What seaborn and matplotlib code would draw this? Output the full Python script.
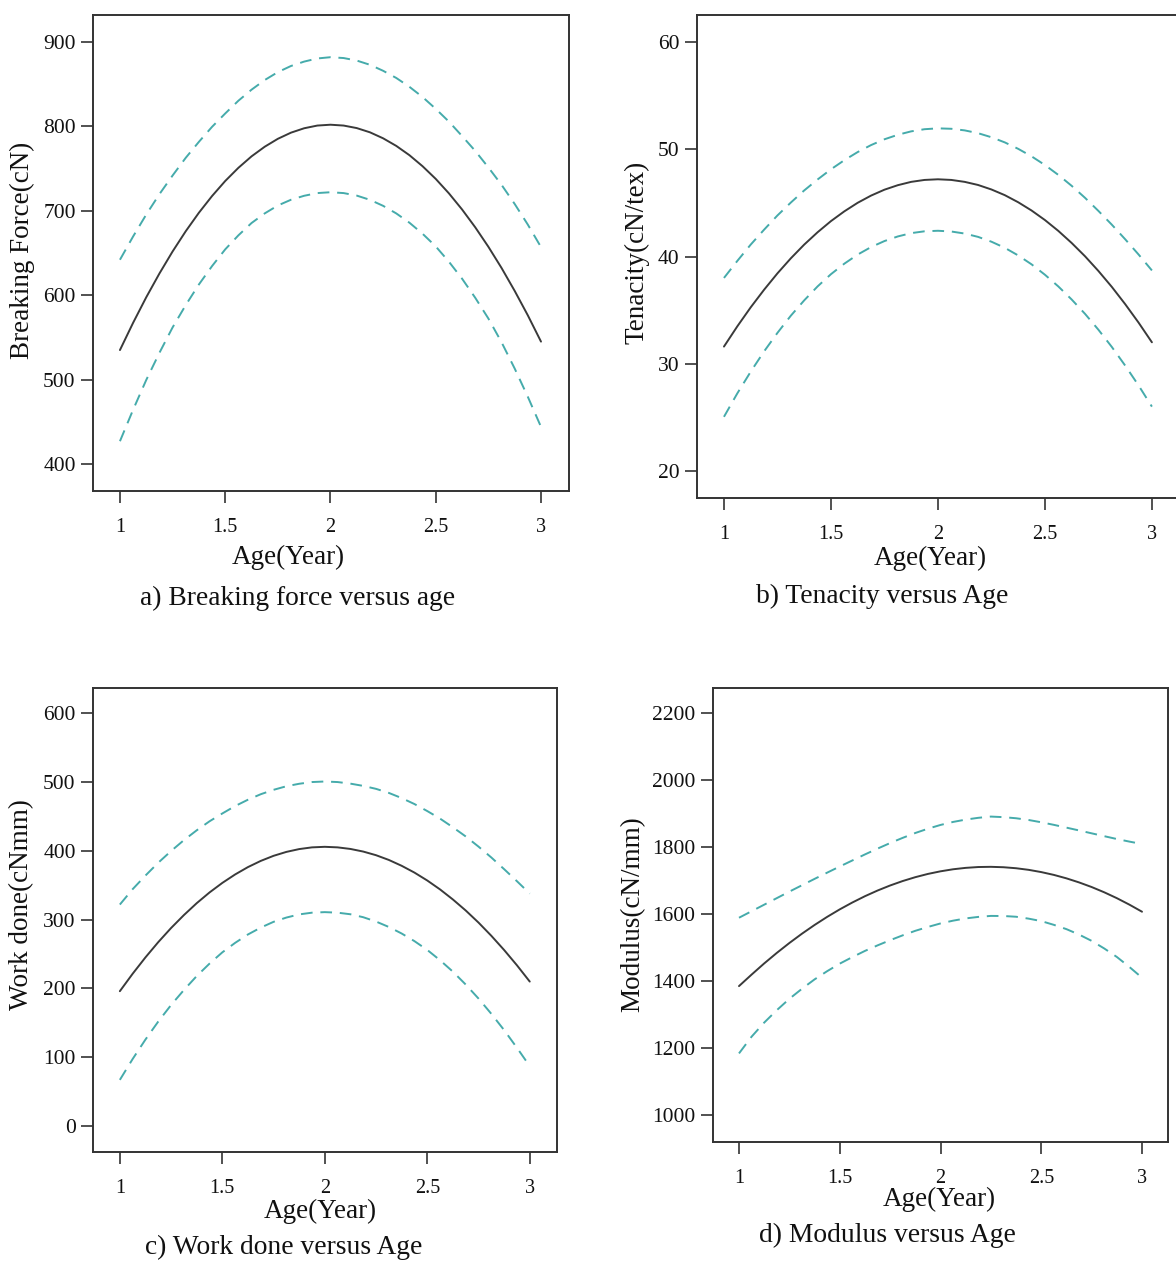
import numpy as np
import pandas as pd
import matplotlib
matplotlib.use("Agg")
import matplotlib.pyplot as plt
import seaborn as sns

# ---------------- data ----------------
age = [1.0, 1.0625, 1.125, 1.1875, 1.25, 1.3125, 1.375, 1.4375, 1.5,
       1.5625, 1.625, 1.6875, 1.75, 1.8125, 1.875, 1.9375, 2.0,
       2.0625, 2.125, 2.1875, 2.25, 2.3125, 2.375, 2.4375, 2.5,
       2.5625, 2.625, 2.6875, 2.75, 2.8125, 2.875, 2.9375, 3.0]

force_fit = [535, 567.3, 597.6, 625.7, 651.8, 675.8, 697.7, 717.5, 735.3,
             750.9, 764.5, 775.9, 785.3, 792.6, 797.8, 801.0, 802,
             801.0, 798.0, 793.0, 785.9, 776.9, 765.9, 752.8, 737.8,
             720.7, 701.6, 680.5, 657.4, 632.3, 605.1, 576.1, 545]
force_up = [642, 669.6, 695.6, 719.7, 741.8, 762.8, 781.7, 799.5, 815.3,
            830.4, 843.5, 854.9, 864.3, 871.6, 876.8, 880.5, 882,
            881.0, 878.0, 873.0, 865.9, 857.4, 846.9, 834.8, 820.8,
            805.7, 788.6, 771.0, 751.4, 730.8, 708.1, 683.6, 657]
force_lo = [427, 464.3, 499.6, 531.7, 561.8, 588.3, 612.7, 634.5, 654.3,
            670.9, 685.5, 696.9, 706.3, 713.1, 717.8, 721.0, 722,
            721.0, 718.0, 713.0, 705.9, 696.9, 685.9, 672.8, 657.8,
            639.7, 619.6, 597.0, 572.4, 544.3, 513.1, 479.6, 444]

ten_fit = [31.6, 33.49, 35.26, 36.90, 38.43, 39.83, 41.11, 42.26, 43.30,
           44.21, 45.01, 45.68, 46.23, 46.65, 46.96, 47.14, 47.2,
           47.14, 46.96, 46.67, 46.25, 45.72, 45.06, 44.29, 43.40,
           42.39, 41.26, 40.02, 38.65, 37.17, 35.56, 33.84, 32.0]
ten_up = [38.0, 39.59, 41.11, 42.50, 43.83, 45.03, 46.16, 47.18, 48.13,
          48.98, 49.74, 50.39, 50.93, 51.35, 51.67, 51.87, 51.95,
          51.91, 51.76, 51.50, 51.12, 50.64, 50.04, 49.34, 48.53,
          47.61, 46.59, 45.47, 44.25, 42.97, 41.61, 40.19, 38.7]
ten_lo = [25.05, 27.24, 29.26, 31.15, 32.88, 34.48, 35.91, 37.21, 38.35,
          39.33, 40.18, 40.88, 41.44, 41.87, 42.18, 42.35, 42.4,
          42.33, 42.14, 41.83, 41.38, 40.81, 40.10, 39.27, 38.30,
          37.21, 35.99, 34.65, 33.17, 31.57, 29.83, 27.98, 26.0]

work_fit = [196, 221.4, 245.2, 267.4, 287.9, 306.7, 324.0, 339.6, 353.5,
            365.8, 376.5, 385.5, 392.9, 398.6, 402.7, 405.2, 406,
            405.2, 402.9, 399.1, 393.8, 386.9, 378.4, 368.5, 357.0,
            344.0, 329.4, 313.4, 295.8, 276.6, 255.9, 233.7, 210]
work_up = [322, 344.4, 364.2, 382.9, 399.9, 415.7, 430.0, 443.1, 454.5,
           465.3, 474.5, 482.5, 488.9, 494.1, 497.7, 500.2, 501,
           500.2, 497.9, 494.6, 490.3, 484.4, 476.9, 468.2, 458.0,
           447.0, 434.4, 421.1, 406.3, 390.5, 373.5, 356.0, 338]
work_lo = [67, 97.4, 125.7, 151.9, 175.9, 197.7, 218.0, 236.1, 252.5,
           266.3, 278.5, 288.5, 296.9, 303.1, 307.7, 310.2, 311,
           310.2, 307.9, 303.6, 297.3, 289.4, 279.9, 268.8, 256.0,
           241.0, 224.4, 205.7, 185.3, 163.1, 139.4, 113.7, 87]

mod_fit = [1386, 1420.3, 1453.6, 1485.0, 1514.6, 1542.4, 1568.4, 1592.6, 1615.0,
           1635.5, 1654.3, 1671.2, 1686.3, 1699.6, 1711.1, 1720.8, 1728.6,
           1734.7, 1738.9, 1741.4, 1742.0, 1740.8, 1737.8, 1733.0, 1726.3,
           1717.9, 1707.6, 1695.5, 1681.7, 1666.0, 1648.5, 1629.1, 1608]
mod_up = [1590, 1609.5, 1629, 1648.5, 1668, 1687, 1706, 1724.6, 1743,
          1761, 1779, 1796.3, 1813, 1828.5, 1843, 1855.8, 1867,
          1876, 1883, 1888.3, 1892, 1890.3, 1887, 1881.8, 1875,
          1867.3, 1859, 1850.6, 1842, 1833.5, 1825, 1817.3, 1810]
mod_lo = [1185, 1235, 1277, 1314, 1348, 1378, 1406, 1430.5, 1453,
          1472.5, 1491, 1507.5, 1523, 1537.5, 1551, 1562.5, 1573,
          1581.3, 1588, 1592.5, 1595.5, 1595.2, 1593, 1587.3, 1580,
          1568.8, 1556, 1539.8, 1521, 1498.3, 1473, 1443, 1411]

x_ticks = [1, 1.5, 2, 2.5, 3]
x_ticklabels = ["1", "1.5", "2", "2.5", "3"]

y_labels = ["Breaking Force(cN)", "Tenacity(cN/tex)", "Work done(cNmm)", "Modulus(cN/mm)"]
captions = ["a) Breaking force versus age", "b) Tenacity versus Age",
            "c) Work done versus Age", "d) Modulus versus Age"]
x_label = "Age(Year)"

# ---------------- style ----------------
sns.set_style("ticks")
plt.rcParams["font.family"] = ["Liberation Serif", "DejaVu Serif"]
plt.rcParams["axes.edgecolor"] = "#333333"
plt.rcParams["xtick.color"] = "#333333"
plt.rcParams["ytick.color"] = "#333333"
plt.rcParams["xtick.labelcolor"] = "#111111"
plt.rcParams["ytick.labelcolor"] = "#111111"

W, H = 1176, 1263
fig = plt.figure(figsize=(W / 100, H / 100), dpi=100)
fig.patch.set_facecolor("white")


def px_axes(left, top, right, bottom):
    return fig.add_axes([left / W, 1 - bottom / H, (right - left) / W, (bottom - top) / H])


FIT_COLOR = "#3a3a3a"
CI_COLOR = "#45abab"

panels = [
    dict(box=(93, 15, 569, 491), xlim=(0.872, 3.133), ylim=(368, 932),
         yticks=[400, 500, 600, 700, 800, 900], fit=force_fit, up=force_up, lo=force_lo,
         ylab_x=22, ylab_y=250, xlab_x=288, xlab_y=557, cap_x=298, cap_y=598),
    dict(box=(697, 15, 1187, 498), xlim=(0.874, 3.164), ylim=(17.48, 62.52),
         yticks=[20, 30, 40, 50, 60], fit=ten_fit, up=ten_up, lo=ten_lo,
         ylab_x=637, ylab_y=252, xlab_x=930, xlab_y=558, cap_x=882, cap_y=596),
    dict(box=(93, 688, 557, 1152), xlim=(0.869, 3.133), ylim=(-37.9, 637),
         yticks=[0, 100, 200, 300, 400, 500, 600], fit=work_fit, up=work_up, lo=work_lo,
         ylab_x=22, ylab_y=905, xlab_x=320, xlab_y=1211, cap_x=284, cap_y=1247),
    dict(box=(713, 688, 1168, 1142), xlim=(0.871, 3.129), ylim=(920.6, 2275.8),
         yticks=[1000, 1200, 1400, 1600, 1800, 2000, 2200], fit=mod_fit, up=mod_up, lo=mod_lo,
         ylab_x=633, ylab_y=914, xlab_x=939, xlab_y=1199, cap_x=887, cap_y=1235),
]

for i, p in enumerate(panels):
    ax = px_axes(*p["box"])
    ax.set_facecolor("white")
    sns.lineplot(x=age, y=p["up"], ax=ax, color=CI_COLOR, linewidth=1.4,
                 linestyle=(0, (6, 4)), errorbar=None)
    sns.lineplot(x=age, y=p["lo"], ax=ax, color=CI_COLOR, linewidth=1.4,
                 linestyle=(0, (6, 4)), errorbar=None)
    sns.lineplot(x=age, y=p["fit"], ax=ax, color=FIT_COLOR, linewidth=1.4,
                 errorbar=None)
    ax.set_xlim(*p["xlim"])
    ax.set_ylim(*p["ylim"])
    ax.set_xticks(x_ticks)
    ax.set_xticklabels(x_ticklabels)
    ax.set_yticks(p["yticks"])
    ax.set_yticklabels([str(v) for v in p["yticks"]])
    ax.tick_params(axis="both", direction="out", length=8.5, width=1.2)
    ax.tick_params(axis="x", labelsize=14.5, pad=11)
    ax.tick_params(axis="y", labelsize=15.5, pad=4)
    for s in ax.spines.values():
        s.set_visible(True)
        s.set_linewidth(1.4)
        s.set_color("#333333")
    ax.set_xlabel("")
    ax.set_ylabel("")
    fig.text(p["ylab_x"] / W, 1 - p["ylab_y"] / H, y_labels[i], rotation=90,
             ha="center", va="center", fontsize=19.5, color="#111111")
    fig.text(p["xlab_x"] / W, 1 - p["xlab_y"] / H, x_label,
             ha="center", va="center", fontsize=19.5, color="#111111")
    fig.text(p["cap_x"] / W, 1 - p["cap_y"] / H, captions[i],
             ha="center", va="center", fontsize=19.8, color="#111111")

fig.savefig("out.png", dpi=100, facecolor="white")
